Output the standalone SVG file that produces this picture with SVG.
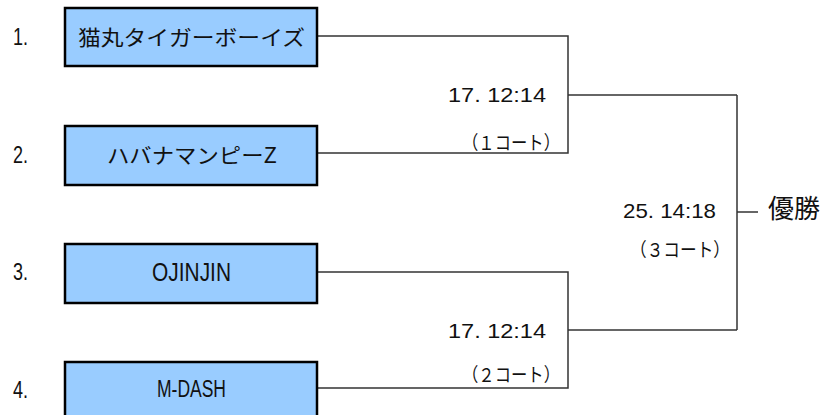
<svg xmlns="http://www.w3.org/2000/svg" width="828" height="415" viewBox="0 0 828 415">
<style>
.box{fill:#99CCFF;stroke:#000;stroke-width:2.5}
.t{font-family:"Liberation Sans","Noto Sans CJK JP",sans-serif;fill:#111}
.j{font-family:"Noto Sans CJK JP","Liberation Sans",sans-serif;fill:#111}
.c{fill:none;stroke:#333;stroke-width:1.5}
</style>
<rect width="828" height="415" fill="#fff"/>
<g id="connectors">
<path class="c" d="M318,36 H568 V153 H318"/>
<path class="c" d="M568,95 H737"/>
<path class="c" d="M318,272 H568 V388 H318"/>
<path class="c" d="M568,330 H737"/>
<path class="c" d="M737,95 V330"/>
<path class="c" d="M737,212 H758"/>
</g>
<g id="team1">
<text class="t" x="13" y="45" font-size="24" textLength="15" lengthAdjust="spacingAndGlyphs">1.</text>
<rect class="box" x="65" y="8" width="252" height="58"/>
<text class="j" x="78" y="45" font-size="21" textLength="227" lengthAdjust="spacingAndGlyphs">猫丸タイガーボーイズ</text>
</g>
<g id="team2">
<text class="t" x="13" y="163" font-size="24" textLength="15" lengthAdjust="spacingAndGlyphs">2.</text>
<rect class="box" x="65" y="126" width="252" height="59"/>
<text class="j" x="107" y="163" font-size="21" textLength="170" lengthAdjust="spacingAndGlyphs">ハバナマンピーZ</text>
</g>
<g id="team3">
<text class="t" x="13" y="280" font-size="24" textLength="15" lengthAdjust="spacingAndGlyphs">3.</text>
<rect class="box" x="65" y="244" width="252" height="59"/>
<text class="t" x="152" y="281" font-size="25" textLength="79" lengthAdjust="spacingAndGlyphs">OJINJIN</text>
</g>
<g id="team4">
<text class="t" x="13" y="398" font-size="24" textLength="15" lengthAdjust="spacingAndGlyphs">4.</text>
<rect class="box" x="65" y="362" width="252" height="62"/>
<text class="t" x="157" y="397" font-size="23" textLength="69" lengthAdjust="spacingAndGlyphs">M-DASH</text>
</g>
<g id="match1">
<text class="t" x="448" y="102" font-size="21" textLength="98" lengthAdjust="spacingAndGlyphs">17. 12:14</text>
<text class="j" x="462" y="150" font-size="19" textLength="98" lengthAdjust="spacingAndGlyphs">（１コート）</text>
</g>
<g id="match2">
<text class="t" x="448" y="338" font-size="21" textLength="98" lengthAdjust="spacingAndGlyphs">17. 12:14</text>
<text class="j" x="462" y="382" font-size="19" textLength="98" lengthAdjust="spacingAndGlyphs">（２コート）</text>
</g>
<g id="final">
<text class="t" x="623" y="218" font-size="21" textLength="93" lengthAdjust="spacingAndGlyphs">25. 14:18</text>
<text class="j" x="630" y="257" font-size="19" textLength="100" lengthAdjust="spacingAndGlyphs">（３コート）</text>
</g>
<g id="winner">
<text class="j" x="768" y="218" font-size="26" textLength="52" lengthAdjust="spacingAndGlyphs">優勝</text>
</g>
</svg>
